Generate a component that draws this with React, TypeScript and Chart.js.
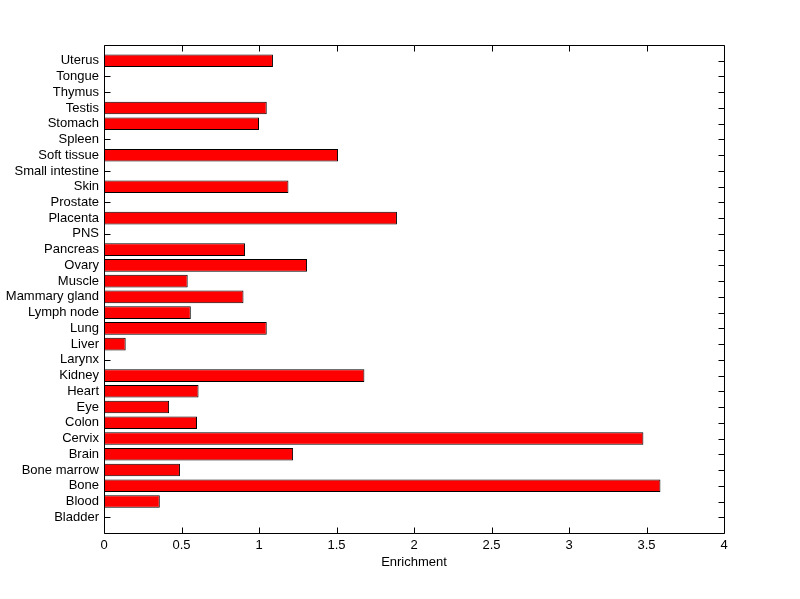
import React, { useEffect, useRef } from "react";
import { Chart, registerables } from "chart.js";

Chart.register(...registerables);

// Categories listed bottom-to-top (Bladder at the bottom, Uterus at the top)
const categories: string[] = [
  "Bladder", "Blood", "Bone", "Bone marrow", "Brain", "Cervix", "Colon", "Eye",
  "Heart", "Kidney", "Larynx", "Liver", "Lung", "Lymph node", "Mammary gland",
  "Muscle", "Ovary", "Pancreas", "PNS", "Placenta", "Prostate", "Skin",
  "Small intestine", "Soft tissue", "Spleen", "Stomach", "Testis", "Thymus",
  "Tongue", "Uterus",
];

const enrichment: number[] = [
  0, 0.36, 3.59, 0.49, 1.22, 3.48, 0.6, 0.42,
  0.61, 1.68, 0, 0.14, 1.05, 0.56, 0.9,
  0.54, 1.31, 0.91, 0, 1.89, 0, 1.19,
  0, 1.51, 0, 1.0, 1.05, 0,
  0, 1.09,
];

const xTickStep = 0.5;
const xMin = 0;
const xMax = 4;
const xTitle = "Enrichment";

const FONT = "'Liberation Sans', Arial, Helvetica, sans-serif";

const framePlugin = {
  id: "matlabFrame",
  beforeDatasetsDraw(chart: any) {
    const { ctx, chartArea: a, scales } = chart;
    const xs = scales.x;
    const ys = scales.y;
    const L = Math.round(a.left) + 0.5;
    const R = Math.round(a.right) + 0.5;
    const T = Math.round(a.top) + 0.5;
    const B = Math.round(a.bottom) + 0.5;
    const tl = 6;
    ctx.save();
    ctx.strokeStyle = "#000";
    ctx.lineWidth = 1;
    ctx.beginPath();
    ctx.rect(L, T, R - L, B - T);
    ys.ticks.forEach((t: any) => {
      const py = Math.round(ys.getPixelForValue(t.value)) + 0.5;
      ctx.moveTo(L, py);
      ctx.lineTo(L + tl, py);
      ctx.moveTo(R, py);
      ctx.lineTo(R - tl, py);
    });
    xs.ticks.forEach((t: any) => {
      const px = Math.round(xs.getPixelForValue(t.value)) + 0.5;
      ctx.moveTo(px, B);
      ctx.lineTo(px, B - tl);
      ctx.moveTo(px, T);
      ctx.lineTo(px, T + tl);
    });
    ctx.stroke();
    ctx.restore();
  },
};

export default function App() {
  const canvasRef = useRef<HTMLCanvasElement | null>(null);

  useEffect(() => {
    const canvas = canvasRef.current;
    if (!canvas) return;
    const chart = new Chart(canvas, {
      type: "bar",
      data: {
        datasets: [
          {
            label: xTitle,
            data: categories.map((c, i) => ({ x: enrichment[i], y: i + 1 })),
            backgroundColor: "#FF0000",
            borderColor: "#000000",
            borderWidth: 1,
            borderSkipped: false,
            categoryPercentage: 1,
            barPercentage: 0.8,
          },
        ],
      },
      options: {
        indexAxis: "y",
        animation: false,
        responsive: false,
        maintainAspectRatio: false,
        layout: { padding: { left: 0, right: 76, top: 45, bottom: 0 } },
        plugins: {
          legend: { display: false },
          tooltip: { enabled: false },
        },
        scales: {
          x: {
            type: "linear",
            position: "bottom",
            min: xMin,
            max: xMax,
            offset: false,
            grid: { display: false, drawTicks: false, offset: false },
            border: { display: false },
            ticks: {
              stepSize: xTickStep,
              color: "#000",
              padding: 5,
              font: { family: FONT, size: 13 },
              callback: (v: any) => String(Number(v)),
            },
            title: {
              display: true,
              text: xTitle,
              color: "#000",
              font: { family: FONT, size: 13 },
              padding: { top: 0, bottom: 29 },
            },
            afterFit: (s: any) => {
              s.height = 66;
            },
          },
          y: {
            type: "linear",
            position: "left",
            min: 0,
            max: categories.length + 1,
            offset: false,
            grid: { display: false, drawTicks: false, offset: false },
            border: { display: false },
            afterBuildTicks: (s: any) => {
              s.ticks = categories.map((_, i) => ({ value: i + 1 }));
            },
            ticks: {
              autoSkip: false,
              color: "#000",
              padding: 5,
              font: { family: FONT, size: 13 },
              callback: (v: any) => categories[Number(v) - 1] ?? "",
            },
            afterFit: (s: any) => {
              s.width = 104;
            },
          },
        },
      },
      plugins: [framePlugin],
    } as any);
    return () => chart.destroy();
  }, []);

  return (
    <div style={{ position: "fixed", left: 0, top: 0, width: 800, height: 599, background: "#fff" }}>
      <canvas ref={canvasRef} width={800} height={599} style={{ width: 800, height: 599, display: "block" }} />
    </div>
  );
}
